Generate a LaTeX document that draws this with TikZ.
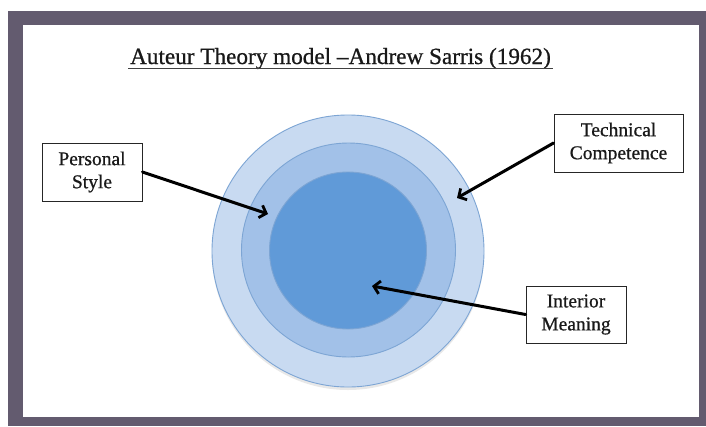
\documentclass[tikz,border=0pt]{standalone}
\usepackage{fontspec}
\setmainfont{Liberation Serif}
\newfontfamily\heavyserif{Liberation Serif}[FakeBold=0.8]
\usepackage{tikz}
\usetikzlibrary{positioning,shadows,arrows.meta}
\definecolor{FrameGray}{HTML}{635B6F}
\definecolor{RingOuter}{HTML}{C8DAF1}
\definecolor{RingMiddle}{HTML}{A2C1E8}
\definecolor{RingInner}{HTML}{609AD8}
\definecolor{RingEdge}{HTML}{7DA5D4}

\begin{document}
\begin{tikzpicture}[x=1pt, y=-1pt,
  ring/.style={circle, draw=RingEdge, line width=0.9pt, inner sep=0pt},
  labelbox/.style={draw=black!85, line width=0.9pt, fill=white, align=center,
    font=\heavyserif\fontsize{19.5}{23}\selectfont, inner sep=0pt, text=black!90},
  pointer/.style={line width=3pt, line cap=round,
    -{Straight Barb[length=6pt, width=13pt, line width=2.8pt]}}]
  \useasboundingbox (0,0) rectangle (706,426);

  % Frame
  \fill[FrameGray] (8,11) rectangle (706,426);
  \fill[white] (23,25) rectangle (699,417);

  % Title
  \node[font=\heavyserif\fontsize{23.2}{27}\selectfont, anchor=base, text=black!90] (title) at (340.5,64)
    {Auteur Theory model \textendash Andrew Sarris (1962)};
  \draw[black!75, line width=1.2pt] (128,68.5) -- (553,68.5);

  % Rings
  \node[ring, fill=RingOuter, minimum size=272pt,
    drop shadow={opacity=0.18, shadow xshift=0pt, shadow yshift=-3pt}] (outer) at (348,251) {};
  \node[ring, fill=RingMiddle, minimum size=214pt] (middle) at (348.5,250) {};
  \node[ring, fill=RingInner, minimum size=157pt] (inner) at (348,250.5) {};

  % Label boxes
  \node[labelbox, minimum width=100pt, minimum height=58pt] (style) at (92,172)
    {Personal\\Style};
  \node[labelbox, minimum width=129pt, minimum height=58pt] (technical) at (618.5,143)
    {Technical\\Competence};
  \node[labelbox, minimum width=100pt, minimum height=57pt] (meaning) at (576,314.5)
    {Interior\\Meaning};

  % Arrow targets
  \coordinate (styletip) at (268,214);
  \coordinate (technicaltip) at (457,198);
  \coordinate (meaningtip) at (372,286);

  % Pointers
  \draw[pointer] (style.east) -- (styletip);
  \draw[pointer] (technical.west) -- (technicaltip);
  \draw[pointer] (meaning.west) -- (meaningtip);
\end{tikzpicture}
\end{document}
